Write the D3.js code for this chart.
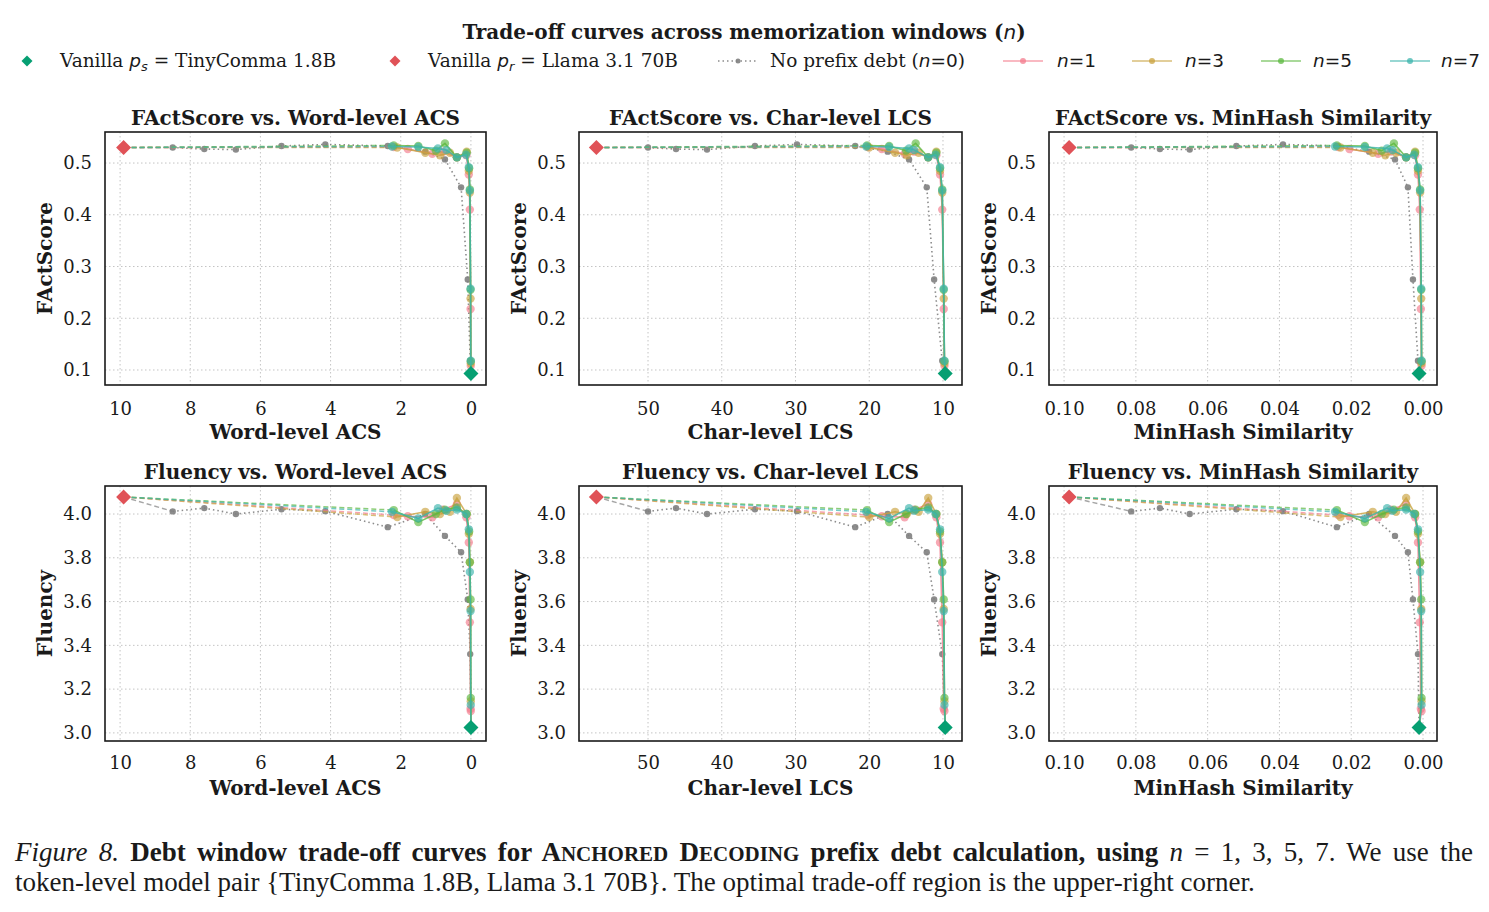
<!DOCTYPE html>
<html>
<head>
<meta charset="utf-8">
<script src="https://cdn.jsdelivr.net/npm/d3@7"></script>
<style>
  body { margin: 0; background: #fff; }
  svg text { font-family: "DejaVu Serif", serif; fill: #1a1a1a; }
</style>
</head>
<body>
<div id="chart"></div>
<script>
// ---- data ----
// vanilla models: [acs, lcs, minhash, factscore, fluency]
const vanillaSmall = [0.0, 9.7, 0.0011, 0.093, 3.025];   // p_s = TinyComma 1.8B
const vanillaLarge = [9.9, 57.0, 0.0986, 0.530, 4.078];  // p_r = Llama 3.1 70B

// n = 0 (no prefix debt)
const acsN0 = [8.5, 7.6, 6.7, 5.4, 4.15, 2.37, 1.3, 0.74, 0.28, 0.09, 0.02];
const lcsN0 = [50.0, 46.2, 42.0, 35.5, 29.8, 21.9, 17.5, 14.6, 12.2, 11.2, 10.1];
const mhN0  = [0.0813, 0.0733, 0.065, 0.052, 0.039, 0.024, 0.015, 0.0078, 0.0042, 0.0028, 0.0014];
const fsN0  = [0.530, 0.527, 0.526, 0.533, 0.536, 0.533, 0.522, 0.507, 0.453, 0.275, 0.118];
const fluN0 = [4.012, 4.027, 4.000, 4.022, 4.013, 3.940, 4.000, 3.900, 3.825, 3.610, 3.360];

// n = 1
const acsN1 = [2.2, 1.8, 1.1, 0.8, 0.4, 0.13, 0.06, 0.03, 0.01, 0.004];
const lcsN1 = [20.2, 18.3, 15.2, 13.9, 12.0, 10.9, 10.4, 10.1, 9.9, 9.8];
const mhN1  = [0.0236, 0.0205, 0.0125, 0.0090, 0.0047, 0.0022, 0.0014, 0.0009, 0.0006, 0.0004];
const fsN1  = [0.531, 0.527, 0.518, 0.522, 0.511, 0.515, 0.478, 0.410, 0.218, 0.108];
const fluN1 = [3.995, 3.990, 3.985, 4.020, 4.045, 3.985, 3.870, 3.505, 3.110, 3.100];

// n = 3
const acsN3 = [2.1, 1.3, 0.88, 0.6, 0.4, 0.12, 0.06, 0.03, 0.01, 0.004];
const lcsN3 = [20.0, 16.5, 14.9, 13.3, 12.0, 10.9, 10.4, 10.1, 9.9, 9.8];
const mhN3  = [0.0230, 0.0140, 0.0105, 0.0075, 0.0047, 0.0022, 0.0014, 0.0008, 0.0005, 0.0004];
const fsN3  = [0.530, 0.520, 0.515, 0.520, 0.511, 0.522, 0.485, 0.443, 0.238, 0.113];
const fluN3 = [3.986, 4.010, 4.000, 4.010, 4.073, 4.000, 3.910, 3.780, 3.566, 3.145];

// n = 5
const acsN5 = [2.2, 1.5, 1.0, 0.74, 0.4, 0.12, 0.05, 0.03, 0.01, 0.004];
const lcsN5 = [20.3, 17.3, 15.0, 13.7, 12.0, 10.9, 10.4, 10.1, 9.9, 9.8];
const mhN5  = [0.0240, 0.0162, 0.0115, 0.0081, 0.0047, 0.0022, 0.0014, 0.0008, 0.0005, 0.0004];
const fsN5  = [0.534, 0.533, 0.524, 0.538, 0.511, 0.520, 0.490, 0.449, 0.255, 0.117];
const fluN5 = [4.018, 3.963, 4.000, 4.020, 4.030, 4.000, 3.920, 3.780, 3.610, 3.160];

// n = 7
const acsN7 = [2.25, 1.5, 0.94, 0.7, 0.4, 0.14, 0.06, 0.03, 0.01, 0.004];
const lcsN7 = [20.4, 17.3, 14.6, 13.9, 12.0, 11.0, 10.4, 10.1, 9.9, 9.8];
const mhN7  = [0.0245, 0.0162, 0.0100, 0.0085, 0.0047, 0.0025, 0.0014, 0.0008, 0.0005, 0.0004];
const fsN7  = [0.532, 0.531, 0.528, 0.525, 0.511, 0.516, 0.492, 0.447, 0.257, 0.118];
const fluN7 = [4.010, 3.980, 4.027, 4.015, 4.020, 4.000, 3.930, 3.735, 3.557, 3.128];

const windowNames = ["0", "1", "3", "5", "7"];

// tick values
const ticksAcs = [10, 8, 6, 4, 2, 0];
const ticksLcs = [50, 40, 30, 20, 10];
const ticksMh  = [0.10, 0.08, 0.06, 0.04, 0.02, 0.00];
const ticksFs  = [0.1, 0.2, 0.3, 0.4, 0.5];
const ticksFlu = [3.0, 3.2, 3.4, 3.6, 3.8, 4.0];

// ---- build series ----
const colors = {"0": "#808080", "1": "#f37b8c", "3": "#c9a23e", "5": "#5cb83f", "7": "#3cb4ac"};
const colorSmall = "#069f72", colorLarge = "#e05257";

function makePoints(acs, lcs, mh, fs, flu) {
    return acs.map((d, i) => ({acs: d, lcs: lcs[i], mh: mh[i], fs: fs[i], flu: flu[i]}));
}
const asPoint = a => ({acs: a[0], lcs: a[1], mh: a[2], fs: a[3], flu: a[4]});
const pSmall = asPoint(vanillaSmall), pLarge = asPoint(vanillaLarge);

const series = [
    {n: "0", points: makePoints(acsN0, lcsN0, mhN0, fsN0, fluN0)},
    {n: "1", points: makePoints(acsN1, lcsN1, mhN1, fsN1, fluN1)},
    {n: "3", points: makePoints(acsN3, lcsN3, mhN3, fsN3, fluN3)},
    {n: "5", points: makePoints(acsN5, lcsN5, mhN5, fsN5, fluN5)},
    {n: "7", points: makePoints(acsN7, lcsN7, mhN7, fsN7, fluN7)}
];

// ---- layout ----
const W = 1489, H = 912;
const svg = d3.select("#chart").append("svg").attr("width", W).attr("height", H);

const cols = [{left: 105, right: 486}, {left: 579, right: 962}, {left: 1049, right: 1437}];
const rows = [{top: 132, bottom: 385}, {top: 486, bottom: 741}];

const xMetrics = [
    {key: "acs", label: "Word-level ACS", domain: [10.43, -0.43], ticks: ticksAcs, fmt: d3.format("d")},
    {key: "lcs", label: "Char-level LCS", domain: [59.36, 7.42], ticks: ticksLcs, fmt: d3.format("d")},
    {key: "mh", label: "MinHash Similarity", domain: [0.1042, -0.0039], ticks: ticksMh, fmt: d3.format(".2f")}
];
const yMetrics = [
    {key: "fs", label: "FActScore", domain: [0.071, 0.560], ticks: ticksFs, fmt: d3.format(".1f")},
    {key: "flu", label: "Fluency", domain: [2.963, 4.128], ticks: ticksFlu, fmt: d3.format(".1f")}
];

const diamond = h => `M0,${-h}L${h},0L0,${h}L${-h},0Z`;

rows.forEach((row, ri) => {
    cols.forEach((col, ci) => {
        const xm = xMetrics[ci], ym = yMetrics[ri];
        const x = d3.scaleLinear().domain(xm.domain).range([col.left, col.right]);
        const y = d3.scaleLinear().domain(ym.domain).range([row.bottom, row.top]);
        const g = svg.append("g");

        // grid
        g.selectAll(".gx").data(xm.ticks).enter().append("line")
            .attr("x1", d => x(d)).attr("x2", d => x(d))
            .attr("y1", row.top).attr("y2", row.bottom)
            .attr("stroke", "#c4c4c4").attr("stroke-width", 1).attr("stroke-dasharray", "1.5,2.5");
        g.selectAll(".gy").data(ym.ticks).enter().append("line")
            .attr("x1", col.left).attr("x2", col.right)
            .attr("y1", d => y(d)).attr("y2", d => y(d))
            .attr("stroke", "#c4c4c4").attr("stroke-width", 1).attr("stroke-dasharray", "1.5,2.5");

        // axes
        const xAxis = g.append("g").attr("transform", `translate(0,${row.bottom})`)
            .call(d3.axisBottom(x).tickValues(xm.ticks).tickFormat(xm.fmt).tickSize(0).tickPadding(ri === 0 ? 17 : 15));
        const yAxis = g.append("g").attr("transform", `translate(${col.left},0)`)
            .call(d3.axisLeft(y).tickValues(ym.ticks).tickFormat(ym.fmt).tickSize(0).tickPadding(13));
        [xAxis, yAxis].forEach(a => {
            a.select(".domain").remove();
            a.selectAll("text").attr("font-family", "DejaVu Serif").attr("font-size", 18).attr("fill", "#1a1a1a");
        });

        const line = d3.line().x(d => x(d[xm.key])).y(d => y(d[ym.key]));

        // series lines
        series.forEach(s => {
            const c = colors[s.n];
            const isBase = s.n === "0";
            g.append("path")
                .attr("d", line([pLarge, s.points[0]]))
                .attr("fill", "none").attr("stroke", c).attr("stroke-width", 1.5)
                .attr("stroke-opacity", 0.7).attr("stroke-dasharray", "5,3");
            g.append("path")
                .attr("d", line(s.points.concat([pSmall])))
                .attr("fill", "none").attr("stroke", c)
                .attr("stroke-width", 1.6)
                .attr("stroke-opacity", isBase ? 0.9 : 0.8)
                .attr("stroke-dasharray", isBase ? "1.5,3" : null);
            g.selectAll(null).data(s.points).enter().append("circle")
                .attr("cx", d => x(d[xm.key])).attr("cy", d => y(d[ym.key]))
                .attr("r", isBase ? 3.2 : 4.2)
                .attr("fill", c).attr("fill-opacity", isBase ? 0.9 : 0.65);
        });

        // vanilla diamonds
        [[pLarge, colorLarge], [pSmall, colorSmall]].forEach(([p, c]) => {
            g.append("path").attr("d", diamond(7.5))
                .attr("transform", `translate(${x(p[xm.key])},${y(p[ym.key])})`)
                .attr("fill", c);
        });

        // frame
        g.append("rect").attr("x", col.left).attr("y", row.top)
            .attr("width", col.right - col.left).attr("height", row.bottom - row.top)
            .attr("fill", "none").attr("stroke", "#1a1a1a").attr("stroke-width", 1.6);

        // titles and labels
        const cx = (col.left + col.right) / 2;
        g.append("text").attr("x", cx).attr("y", row.top - 7).attr("text-anchor", "middle")
            .attr("font-size", 20).attr("font-weight", "bold")
            .text(`${ym.label} vs. ${xm.label}`);
        g.append("text").attr("x", cx).attr("y", row.bottom + 54).attr("text-anchor", "middle")
            .attr("font-size", 20).attr("font-weight", "bold").text(xm.label);
        g.append("text")
            .attr("transform", `translate(${col.left - 53},${(row.top + row.bottom) / 2}) rotate(-90)`)
            .attr("text-anchor", "middle").attr("font-size", 20).attr("font-weight", "bold")
            .text(ym.label);
    });
});

// ---- suptitle ----
const sup = svg.append("text").attr("x", 744).attr("y", 39).attr("text-anchor", "middle")
    .attr("font-size", 20).attr("font-weight", "bold");
sup.append("tspan").text("Trade-off curves across memorization windows (");
sup.append("tspan").attr("font-family", "DejaVu Sans").attr("font-style", "italic").attr("font-weight", "normal").text("n");
sup.append("tspan").text(")");

// ---- legend ----
const leg = svg.append("g");
const legY = 61;
function legText(xp) {
    return leg.append("text").attr("x", xp).attr("y", legY + 6).attr("font-size", 18.5);
}
[[27, colorSmall, 60, "s", "TinyComma 1.8B"], [395, colorLarge, 428, "r", "Llama 3.1 70B"]].forEach(([mx, c, tx, sub, name]) => {
    leg.append("path").attr("d", diamond(5.5)).attr("transform", `translate(${mx},${legY})`).attr("fill", c);
    const t = legText(tx);
    t.append("tspan").text("Vanilla ");
    t.append("tspan").attr("font-family", "DejaVu Sans").attr("font-style", "italic").text("p");
    t.append("tspan").attr("font-family", "DejaVu Sans").attr("font-style", "italic").attr("font-size", 13).attr("dy", 4).text(sub);
    t.append("tspan").attr("dy", -4).text(" = " + name);
});

const legLines = [718, 1003, 1132, 1261, 1390];
const legTextX = [770, 1057, 1185, 1313, 1441];
windowNames.forEach((n, i) => {
    const c = colors[n], x0 = legLines[i];
    leg.append("line").attr("x1", x0).attr("x2", x0 + 40).attr("y1", legY).attr("y2", legY)
        .attr("stroke", c).attr("stroke-width", 1.5).attr("stroke-opacity", n === "0" ? 0.9 : 0.7)
        .attr("stroke-dasharray", n === "0" ? "1.5,3" : null);
    leg.append("circle").attr("cx", x0 + 20).attr("cy", legY).attr("r", n === "0" ? 2.5 : 3)
        .attr("fill", c).attr("fill-opacity", n === "0" ? 0.9 : 0.75);
    const t = legText(legTextX[i]);
    if (n === "0") {
        t.append("tspan").text("No prefix debt (");
        t.append("tspan").attr("font-family", "DejaVu Sans").attr("font-style", "italic").text("n");
        t.append("tspan").attr("font-family", "DejaVu Sans").text("=0");
        t.append("tspan").text(")");
    } else {
        t.append("tspan").attr("font-family", "DejaVu Sans").attr("font-style", "italic").text("n");
        t.append("tspan").attr("font-family", "DejaVu Sans").text("=" + n);
    }
});

// ---- caption ----
const capFont = "Liberation Serif";
const cap1 = svg.append("text").attr("x", 15).attr("y", 861).attr("font-size", 27)
    .style("font-family", capFont);
cap1.append("tspan").attr("font-style", "italic").text("Figure 8.");
cap1.append("tspan").attr("font-weight", "bold").text("  Debt window trade-off curves for A");
cap1.append("tspan").attr("font-weight", "bold").attr("font-size", 21).text("NCHORED");
cap1.append("tspan").attr("font-weight", "bold").text(" D");
cap1.append("tspan").attr("font-weight", "bold").attr("font-size", 21).text("ECODING");
cap1.append("tspan").attr("font-weight", "bold").text(" prefix debt calculation, using ");
cap1.append("tspan").attr("font-style", "italic").text("n");
cap1.append("tspan").text(" = 1, 3, 5, 7.  We use the");
cap1.selectAll("tspan").style("font-family", capFont);
// justify the first line to the right margin (two passes, measured on the box)
const spaces = (cap1.text().match(/ /g) || []).length;
let ws = 0;
for (let k = 0; k < 3; k++) {
    const b = cap1.node().getBBox();
    ws += (1473 - (b.x + b.width)) / spaces;
    cap1.attr("word-spacing", ws);
}

svg.append("text").attr("x", 15).attr("y", 891).attr("font-size", 27).style("font-family", capFont)
    .text("token-level model pair {TinyComma 1.8B, Llama 3.1 70B}. The optimal trade-off region is the upper-right corner.");
</script>
</body>
</html>
